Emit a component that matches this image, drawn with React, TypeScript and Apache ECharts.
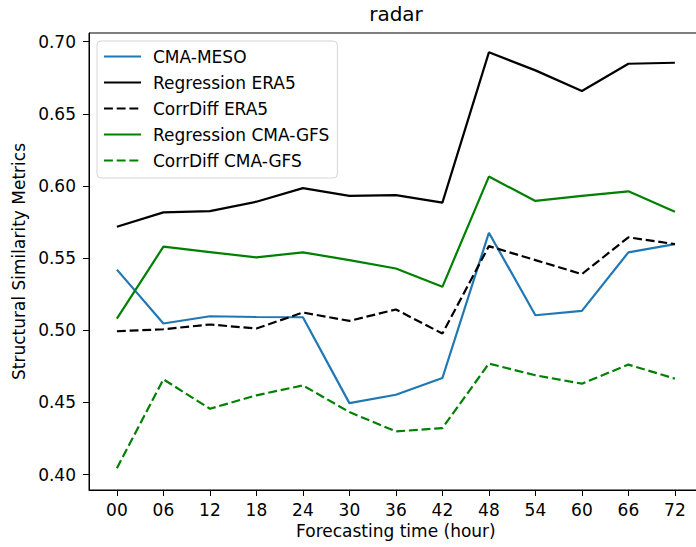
import React, { useEffect, useRef } from "react";
import * as echarts from "echarts";

const hours = [0, 6, 12, 18, 24, 30, 36, 42, 48, 54, 60, 66, 72];
const hourLabels = ["00", "06", "12", "18", "24", "30", "36", "42", "48", "54", "60", "66", "72"];
const yTicks = [0.4, 0.45, 0.5, 0.55, 0.6, 0.65, 0.7];

const cmaMeso = [0.542, 0.5047, 0.5097, 0.5092, 0.5090, 0.4495, 0.4553, 0.4669, 0.5676, 0.5104, 0.5134, 0.554, 0.5597];
const regressionEra5 = [0.5717, 0.5817, 0.5826, 0.5891, 0.5985, 0.5931, 0.5937, 0.5884, 0.6926, 0.6801, 0.6658, 0.6847, 0.6854];
const corrDiffEra5 = [0.4993, 0.5007, 0.504, 0.5012, 0.5123, 0.5065, 0.5144, 0.4977, 0.5583, 0.5486, 0.5389, 0.5644, 0.5597];
const regressionCmaGfs = [0.5081, 0.5579, 0.5542, 0.5505, 0.554, 0.5486, 0.5428, 0.5301, 0.6065, 0.5896, 0.5931, 0.5963, 0.5822];
const corrDiffCmaGfs = [0.4044, 0.466, 0.4456, 0.4549, 0.4618, 0.4433, 0.4299, 0.4322, 0.4769, 0.4688, 0.463, 0.4762, 0.4665];

const FONT = "DejaVu Sans";
const FS = 17;

export default function App() {
  const ref = useRef<HTMLDivElement>(null);
  useEffect(() => {
    if (!ref.current) return;
    const chart = echarts.init(ref.current, undefined, { renderer: "svg" });
    const dash = [8.9, 3.8];
    const mk = (name: string, vals: number[], color: string, dashed: boolean) => ({
      name,
      type: "line",
      data: hours.map((h, i) => [h, vals[i]]),
      symbol: "none",
      lineStyle: { color, width: 2.2, type: dashed ? dash : "solid" },
      itemStyle: { color },
    });
    chart.setOption({
      animation: false,
      backgroundColor: "#fff",
      textStyle: { fontFamily: FONT },
      title: {
        text: "radar",
        left: 396,
        top: 4,
        padding: 0,
        textAlign: "center",
        textStyle: { fontFamily: FONT, fontSize: 20, fontWeight: "normal", color: "#000" },
      },
      legend: {
        orient: "vertical",
        left: 97,
        top: 41,
        padding: [7, 8, 9, 6],
        itemWidth: 37,
        itemHeight: 14,
        itemGap: 9,
        borderColor: "#d4d4d4",
        borderWidth: 1,
        borderRadius: 4,
        backgroundColor: "rgba(255,255,255,0.8)",
        itemStyle: { opacity: 0 },
        textStyle: { fontFamily: FONT, fontSize: FS, color: "#000", padding: [0, 0, 0, 7] },
        data: ["CMA-MESO", "Regression ERA5", "CorrDiff ERA5", "Regression CMA-GFS", "CorrDiff CMA-GFS"],
      },
      grid: {
        left: 89,
        top: 33,
        width: 613.8,
        height: 457,
        show: true,
        borderColor: "#000",
        borderWidth: 1,
        containLabel: false,
      },
      xAxis: {
        type: "value",
        min: -3.6,
        max: 75.6,
        name: "Forecasting time (hour)",
        nameLocation: "middle",
        nameGap: 32,
        nameTextStyle: { fontFamily: FONT, fontSize: FS, color: "#000" },
        axisLine: { show: true, onZero: false, lineStyle: { color: "#000", width: 1 } },
        axisTick: { show: true, inside: false, length: 6, lineStyle: { color: "#000" }, customValues: hours },
        axisLabel: {
          show: true,
          margin: 11,
          fontFamily: FONT,
          fontSize: FS,
          color: "#000",
          customValues: hours,
          formatter: (v: number) => {
            const i = hours.indexOf(Math.round(v));
            return i >= 0 ? hourLabels[i] : "";
          },
        },
        splitLine: { show: false },
      },
      yAxis: {
        type: "value",
        min: 0.3893,
        max: 0.706,
        name: "Structural Similarity Metrics",
        nameLocation: "middle",
        nameGap: 58,
        nameTextStyle: { fontFamily: FONT, fontSize: FS, color: "#000" },
        axisLine: { show: true, onZero: false, lineStyle: { color: "#000", width: 1 } },
        axisTick: { show: true, inside: false, length: 6, lineStyle: { color: "#000" }, customValues: yTicks },
        axisLabel: {
          show: true,
          margin: 13,
          fontFamily: FONT,
          fontSize: FS,
          color: "#000",
          customValues: yTicks,
          formatter: (v: number) => v.toFixed(2),
        },
        splitLine: { show: false },
      },
      series: [
        mk("CMA-MESO", cmaMeso, "#1f77b4", false),
        mk("Regression ERA5", regressionEra5, "#000000", false),
        mk("CorrDiff ERA5", corrDiffEra5, "#000000", true),
        mk("Regression CMA-GFS", regressionCmaGfs, "#008000", false),
        mk("CorrDiff CMA-GFS", corrDiffCmaGfs, "#008000", true),
      ],
    });
    return () => chart.dispose();
  }, []);
  return (
    <div style={{ position: "absolute", left: 0, top: 0, width: 696, height: 547, overflow: "hidden", background: "#fff" }}>
      <div ref={ref} style={{ width: 720, height: 547 }} />
    </div>
  );
}
